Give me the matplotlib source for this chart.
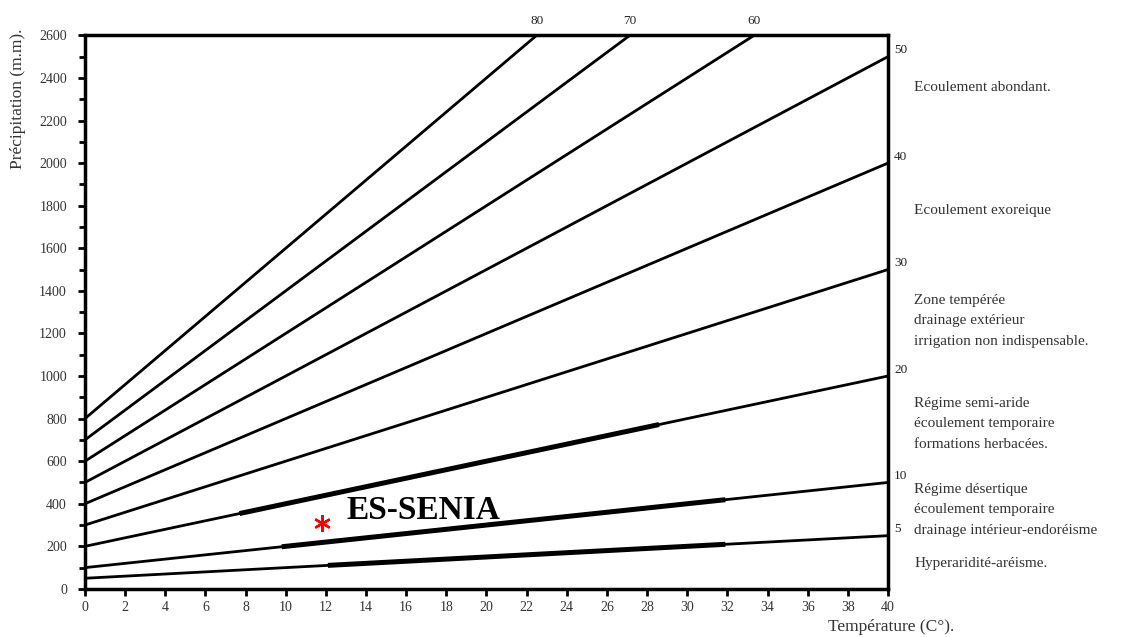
import numpy as np
import matplotlib.pyplot as plt

plt.rcParams['font.family'] = ['Liberation Serif', 'DejaVu Serif']

# De Martonne index lines: P = I * (T + 10)
indices = [5, 10, 20, 30, 40, 50, 60, 70, 80]

# highlighted stretches (index, T start, T end)
seg_index = [20, 10, 5]
seg_t0 = [7.7, 9.8, 12.1]
seg_t1 = [28.6, 31.9, 31.9]

# station
station_name = "ES-SENIA"
station_t = 11.8
station_p = 310

zone_p = [2355, 1777, 1260, 776, 371, 118]
zone_text = [
    "Ecoulement abondant.",
    "Ecoulement exoreique",
    "Zone tempérée\ndrainage extérieur\nirrigation non indispensable.",
    "Régime semi-aride\nécoulement temporaire\nformations herbacées.",
    "Régime désertique\nécoulement temporaire\ndrainage intérieur-endoréisme",
    "Hyperaridité-aréisme.",
]

fig = plt.figure(figsize=(11.3, 6.37), dpi=100)
ax = fig.add_axes([0.0752, 0.0755, 0.7106, 0.869])

T = np.linspace(0, 40, 401)
for i in indices:
    ax.plot(T, i * (T + 10), color='black', lw=2.0, solid_capstyle='butt')

for i, a, b in zip(seg_index, seg_t0, seg_t1):
    t = np.linspace(a, b, 50)
    ax.plot(t, i * (t + 10), color='black', lw=3.6, solid_capstyle='butt')

ax.set_xlim(0, 40)
ax.set_ylim(0, 2600)

# index labels at line ends
for i in indices:
    top_t = 2600 / i - 10
    if top_t < 40:
        ax.text(top_t, 2640, str(i), fontsize=9.5, ha='center', va='bottom', color='#222')
    else:
        ax.text(40.3, i * 50 + 30, str(i), fontsize=9.5, ha='left', va='center', color='#222')

for p, txt in zip(zone_p, zone_text):
    ax.text(41.3, p, txt, fontsize=11, ha='left', va='center', color='#333', linespacing=1.75)

ax.plot(station_t, station_p, marker=(6, 2, 0), color='red', ms=12, mew=1.7)
ax.text(station_t + 1.2, station_p + 60, station_name, fontsize=24, fontweight='bold',
        ha='left', va='center', color='black')

ax.set_xticks(np.arange(0, 41, 2))
ax.set_yticks(np.arange(0, 2601, 200))
ax.set_yticks(np.arange(0, 2601, 100), minor=True)
ax.tick_params(axis='both', which='both', direction='out', width=2, labelsize=10,
               labelcolor='#333')
ax.tick_params(axis='both', which='major', length=5)
ax.tick_params(axis='y', which='major', pad=8)
ax.tick_params(axis='y', which='minor', length=4)
for s in ax.spines.values():
    s.set_linewidth(2.5)

fig.text(0.016, 0.955, "Précipitation (m.m).", rotation=90, fontsize=12.5,
         ha='center', va='top', color='#333')
fig.text(0.733, 0.003, "Température (C°).", fontsize=12.5, ha='left', va='bottom', color='#333')

fig.savefig('out.png', dpi=100)
